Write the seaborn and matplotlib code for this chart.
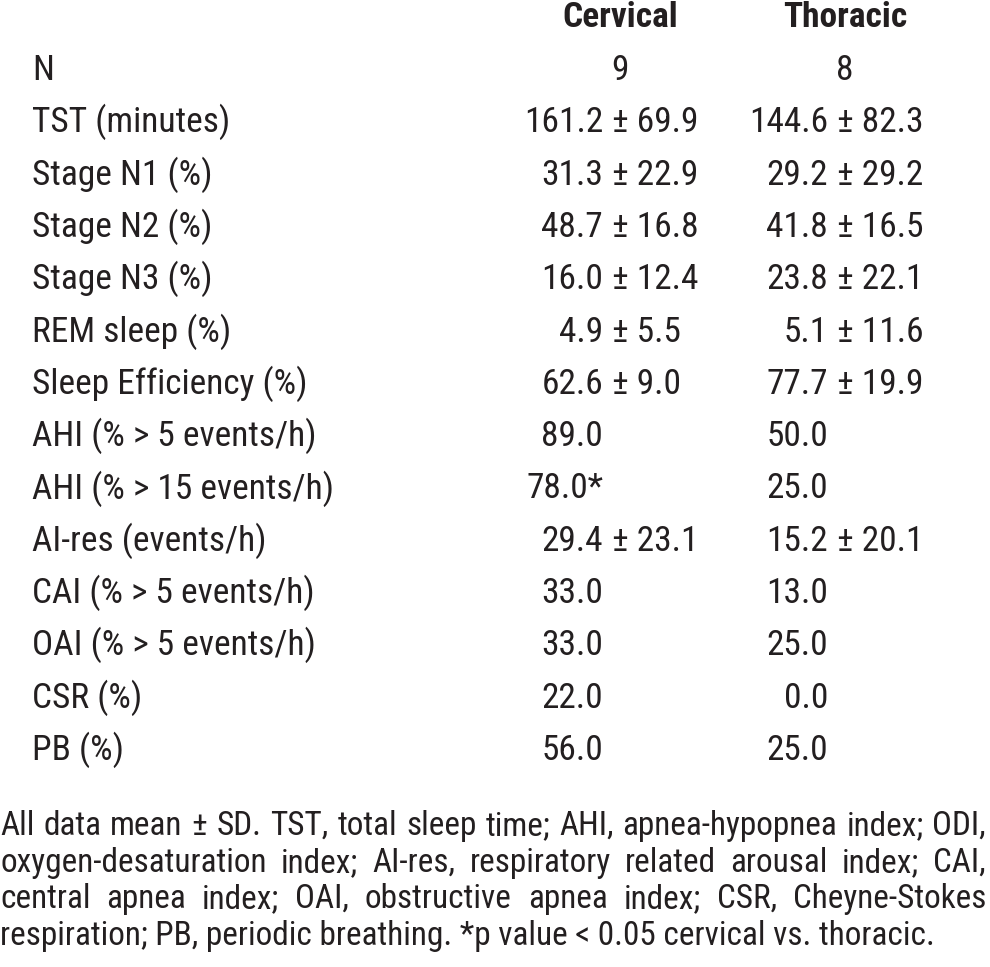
import matplotlib
matplotlib.use("Agg")
import matplotlib.pyplot as plt
import seaborn as sns

# table content
groups = ["Cervical", "Thoracic"]
n_subjects = [9, 8]
row_labels = ["TST (minutes)", "Stage N1 (%)", "Stage N2 (%)", "Stage N3 (%)",
              "REM sleep (%)", "Sleep Efficiency (%)", "AHI (% > 5 events/h)",
              "AHI (% > 15 events/h)", "AI-res (events/h)", "CAI (% > 5 events/h)",
              "OAI (% > 5 events/h)", "CSR (%)", "PB (%)"]
cervical_mean = [161.2, 31.3, 48.7, 16.0, 4.9, 62.6, 89.0, 78.0, 29.4, 33.0, 33.0, 22.0, 56.0]
cervical_sd = [69.9, 22.9, 16.8, 12.4, 5.5, 9.0, None, None, 23.1, None, None, None, None]
cervical_flag = ["", "", "", "", "", "", "", "*", "", "", "", "", ""]
thoracic_mean = [144.6, 29.2, 41.8, 23.8, 5.1, 77.7, 50.0, 25.0, 15.2, 13.0, 25.0, 0.0, 25.0]
thoracic_sd = [82.3, 29.2, 16.5, 22.1, 11.6, 19.9, None, None, 20.1, None, None, None, None]
thoracic_flag = [""] * 13

footnote = [
    "All data mean ± SD. TST, total sleep time; AHI, apnea-hypopnea index; ODI,",
    "oxygen-desaturation index; AI-res, respiratory related arousal index; CAI,",
    "central apnea index; OAI, obstructive apnea index; CSR, Cheyne-Stokes",
    "respiration; PB, periodic breathing. *p value < 0.05 cervical vs. thoracic.",
]

sns.set_theme(style="white")
plt.rcParams["font.family"] = ["Roboto Condensed", "DejaVu Sans"]
ink = "#231f20"
fs = 25.5
body_w = "normal"

W, H = 990, 967
fig = plt.figure(figsize=(W / 100, H / 100), dpi=100)
ax = fig.add_axes([0, 0, 1, 1])
ax.set_xlim(0, W)
ax.set_ylim(H, 0)
ax.axis("off")

col_center = [620, 845]
mean_right = [603, 828]
sd_left = [612, 837]
label_x = 32
base0 = 80
step = 52.3


def put(x, y, s, ha="left", size=fs, weight=body_w):
    return ax.text(x, y, s, ha=ha, va="baseline", fontsize=size, fontweight=weight, color=ink)


for g, xc in zip(groups, col_center):
    put(xc, 27, g, ha="center", weight="bold")

put(label_x, base0, "N")
for n, xc in zip(n_subjects, col_center):
    put(xc, base0, str(n), ha="center")

columns = [(cervical_mean, cervical_sd, cervical_flag), (thoracic_mean, thoracic_sd, thoracic_flag)]
for i, lab in enumerate(row_labels):
    y = base0 + step * (i + 1)
    put(label_x, y, lab)
    for c, (means, sds, flags) in enumerate(columns):
        put(mean_right[c], y, f"{means[i]:.1f}{flags[i]}", ha="right")
        if sds[i] is not None:
            put(sd_left[c], y, f"± {sds[i]:.1f}")

# justified footnote, sized so the last (unjustified) line ends near x=933
renderer = fig.canvas.get_renderer()
probe = put(0, 0, footnote[-1])
foot_fs = fs * 933 / probe.get_window_extent(renderer).width
probe.remove()

foot_base = [835, 872, 908, 945]
right_edge = 986
for k, line in enumerate(footnote):
    y = foot_base[k]
    if k == len(footnote) - 1:
        put(0, y, line, size=foot_fs)
        continue
    words = line.split(" ")
    objs = [put(0, y, w, size=foot_fs) for w in words]
    widths = [t.get_window_extent(renderer).width for t in objs]
    gap = (right_edge - sum(widths)) / (len(words) - 1)
    x = 0
    for t, w in zip(objs, widths):
        t.set_x(x)
        x += w + gap

fig.savefig("out.png", dpi=100)
